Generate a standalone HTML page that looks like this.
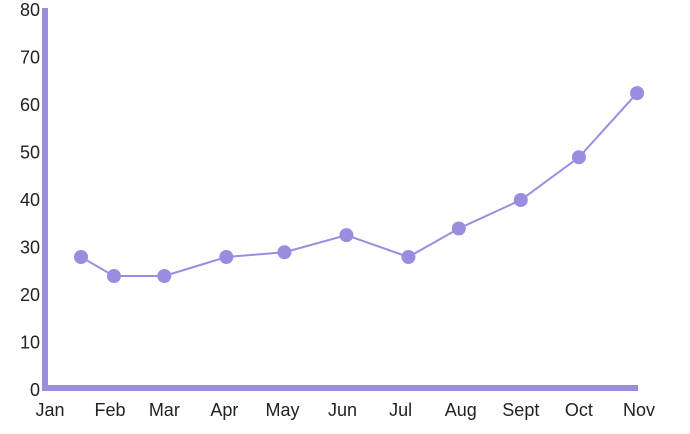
<!DOCTYPE html>
<html><head><meta charset="utf-8"><style>
html,body{margin:0;padding:0;background:#fff;}
svg{display:block;font-family:"Liberation Sans",sans-serif;}
text{font-size:18px;fill:#222;}
</style></head><body>
<svg id="chart" width="690" height="434"></svg>
<script>
const monthLabels = ["Jan","Feb","Mar","Apr","May","Jun","Jul","Aug","Sept","Oct","Nov"];
const monthStartDays = [0,31,59,90,120,151,181,212,243,273,304];
const pointDays = [16,33,59,91,121,153,185,211,243,273,303];
const pointValues = [28,24,24,28,29,32.6,28,34,40,49,62.5];
const yTicks = [0,10,20,30,40,50,60,70,80];

const NS = "http://www.w3.org/2000/svg";
const svg = document.getElementById("chart");
const x0 = 50, x1 = 639, d0 = 0, d1 = 304;
const y0 = 390, y1 = 10, v0 = 0, v1 = 80;
const xs = d => x0 + (d - d0) * (x1 - x0) / (d1 - d0);
const ys = v => y0 - (v - v0) * (y0 - y1) / (v1 - v0);
const color = "#9b8ce0";
function mk(tag, attrs){const e=document.createElementNS(NS,tag);for(const k in attrs)e.setAttribute(k,attrs[k]);svg.appendChild(e);return e;}

yTicks.forEach(t=>{
  const e=mk("text",{x:40,y:ys(t)+6,"text-anchor":"end"});
  e.textContent=t;
  
  
});
monthLabels.forEach((m,i)=>{
  const e=mk("text",{x:xs(monthStartDays[i]),y:416,"text-anchor":"middle"});
  e.textContent=m;
  
  
});
const yAxis=mk("line",{x1:45,y1:8,x2:45,y2:391,stroke:color,"stroke-width":6});


const xAxis=mk("line",{x1:42,y1:388,x2:638,y2:388,stroke:color,"stroke-width":6});



const pts=pointDays.map((d,i)=>xs(d)+","+ys(pointValues[i])).join(" ");
const line=mk("polyline",{points:pts,fill:"none",stroke:color,"stroke-width":2});


pointDays.forEach((d,i)=>{
  const c=mk("circle",{cx:xs(d),cy:ys(pointValues[i]),r:7,fill:color});
  
  
});
</script>
</body></html>
